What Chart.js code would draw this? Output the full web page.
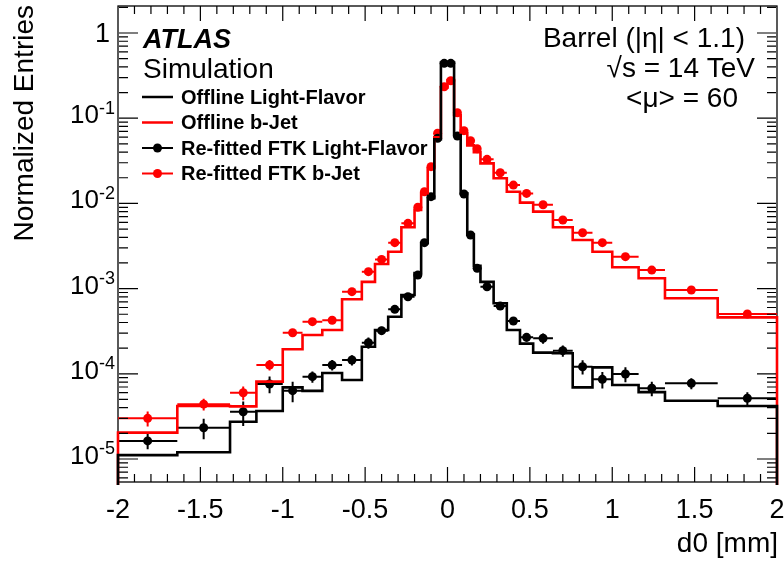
<!DOCTYPE html>
<html><head><meta charset="utf-8">
<script src="https://cdn.jsdelivr.net/npm/chart.js@4.4.1/dist/chart.umd.min.js"></script>
<style>html,body{margin:0;padding:0;background:#fff;}canvas{display:block;}</style>
</head><body>
<canvas id="c" width="784" height="564"></canvas>
<script>
// ---- data ----
const binEdges = [-2, -1.64, -1.32, -1.16, -1.0, -0.88, -0.76, -0.64, -0.52, -0.44, -0.36, -0.28, -0.2, -0.16, -0.12, -0.08, -0.04, 0,
  0.04, 0.08, 0.12, 0.16, 0.2, 0.28, 0.36, 0.44, 0.52, 0.64, 0.76, 0.88, 1.0, 1.16, 1.32, 1.64, 2.0];

const offlineLight = [1.11e-5, 1.2e-5, 2.74e-5, 3.66e-5, 6.93e-5, 6.3e-5, 1.02e-4, 8.45e-5, 2.08e-4, 3.27e-4, 4.68e-4, 8.41e-4,
  1.52e-3, 3.43e-3, 0.0115, 0.0565, 0.45, 0.45, 0.0635, 0.0131, 4.3e-3, 1.85e-3, 1.2e-3, 6.72e-4, 3.27e-4, 2.26e-4, 1.77e-4,
  1.74e-4, 6.93e-5, 1.19e-4, 7.39e-5, 6.1e-5, 4.83e-5, 4.19e-5];

const offlineB = [2.04e-5, 4.19e-5, 4.15e-5, 8.09e-5, 1.94e-4, 2.85e-4, 3.27e-4, 7.49e-4, 1.2e-3, 1.94e-3, 2.71e-3, 5.24e-3,
  8.4e-3, 1.32e-2, 2.58e-2, 5.97e-2, 0.23, 0.28, 0.109, 0.0665, 0.048, 0.040, 0.0295, 0.0197, 0.0137, 0.0102, 8.0e-3,
  5.24e-3, 3.72e-3, 2.71e-3, 1.78e-3, 1.32e-3, 7.69e-4, 4.6e-4];

const ftkLight = [1.63e-5, 2.33e-5, 3.59e-5, 7.6e-5, 6.34e-5, 9.25e-5, 1.27e-4, 1.45e-4, 2.32e-4, 3.21e-4, 5.71e-4, 8.03e-4,
  1.44e-3, 3.46e-3, 0.012, 0.058, 0.44, 0.44, 0.0618, 0.0129, 4.26e-3, 1.73e-3, 1.05e-3, 6.25e-4, 4.17e-4, 2.68e-4, 2.61e-4,
  1.87e-4, 1.21e-4, 8.61e-5, 9.95e-5, 6.76e-5, 7.74e-5, 5.16e-5];
const ftkLightErr = [3.3e-6, 6.3e-6, 1.15e-5, 1.7e-5, 1.7e-5, 1.4e-5, 1.8e-5, 2.0e-5, 3.5e-5, 3.5e-5, 4.6e-5, 5.6e-5,
  8e-5, 1.5e-4, 4e-4, 1.2e-3, 5e-3, 5e-3, 1.2e-3, 4e-4, 1.5e-4, 8e-5, 6e-5, 4e-5, 3.5e-5, 3e-5, 3.6e-5,
  2.8e-5, 2.3e-5, 1.9e-5, 2e-5, 1.3e-5, 1.15e-5, 9.3e-6];

const ftkB = [3.0e-5, 4.4e-5, 6.0e-5, 1.27e-4, 3.03e-4, 4.09e-4, 4.25e-4, 9.2e-4, 1.58e-3, 2.2e-3, 3.46e-3, 5.83e-3,
  9.0e-3, 1.37e-2, 2.7e-2, 6.65e-2, 0.234, 0.275, 0.116, 0.0714, 0.0544, 0.0438, 0.0329, 0.0229, 0.0164, 0.0131, 9.65e-3,
  6.38e-3, 4.53e-3, 3.46e-3, 2.37e-3, 1.65e-3, 9.63e-4, 5.03e-4];
const ftkBErr = [6e-6, 7e-6, 1.1e-5, 1.8e-5, 2.4e-5, 2.8e-5, 2.8e-5, 4.5e-5, 6.5e-5, 8e-5, 1.1e-4, 1.5e-4,
  2e-4, 2.8e-4, 4.5e-4, 9e-4, 3e-3, 3e-3, 1.5e-3, 1e-3, 8e-4, 7e-4, 5e-4, 4e-4, 3e-4, 2.6e-4, 2e-4,
  1.5e-4, 1.2e-4, 1e-4, 7e-5, 5.5e-5, 3.5e-5, 2.3e-5];

const seriesNames = ['Offline Light-Flavor', 'Offline b-Jet', 'Re-fitted FTK Light-Flavor', 'Re-fitted FTK b-Jet'];
const xTickValues = [-2, -1.5, -1, -0.5, 0, 0.5, 1, 1.5, 2];
const xTickLabels = ['-2', '-1.5', '-1', '-0.5', '0', '0.5', '1', '1.5', '2'];
const yTickExponents = [0, -1, -2, -3, -4, -5];
const xTitle = 'd0 [mm]';
const yTitle = 'Normalized Entries';
const infoLines = ['Barrel (|\u03b7| < 1.1)', '\u221as = 14 TeV', '<\u03bc> = 60'];

// ---- helpers ----
const FONT = '"Liberation Sans", Arial, Helvetica, sans-serif';
const RED = '#ff0000', BLACK = '#000000';
const FLOOR = 1e-9;

function histData(vals) {
  const n = binEdges.length - 1;
  const pts = [{x: binEdges[0], y: FLOOR}];
  for (let i = 0; i < n; i++) pts.push({x: binEdges[i], y: vals[i]});
  pts.push({x: binEdges[n], y: vals[n - 1]});
  pts.push({x: binEdges[n], y: FLOOR});
  return pts;
}
function pointData(vals) {
  return vals.map((v, i) => ({x: (binEdges[i] + binEdges[i + 1]) / 2, y: v}));
}

const errorBars = {
  id: 'errorBars',
  beforeDatasetDraw(chart, args) {
    const ds = chart.data.datasets[args.index];
    if (!ds.yErr) return;
    const xs = chart.scales.x, ys = chart.scales.y, ctx = chart.ctx, a = chart.chartArea;
    ctx.save();
    ctx.beginPath(); ctx.rect(a.left, a.top, a.right - a.left, a.bottom - a.top); ctx.clip();
    ctx.strokeStyle = ds.pointBackgroundColor; ctx.lineWidth = 2;
    ds.data.forEach((p, i) => {
      const py = ys.getPixelForValue(p.y), px = xs.getPixelForValue(p.x);
      ctx.beginPath();
      ctx.moveTo(xs.getPixelForValue(binEdges[i]), py);
      ctx.lineTo(xs.getPixelForValue(binEdges[i + 1]), py);
      ctx.moveTo(px, ys.getPixelForValue(p.y + ds.yErr[i]));
      ctx.lineTo(px, ys.getPixelForValue(Math.max(p.y - ds.yErr[i], FLOOR)));
      ctx.stroke();
    });
    ctx.restore();
  }
};

const frame = {
  id: 'frame',
  beforeDatasetsDraw(chart) {
    const ctx = chart.ctx, a = chart.chartArea;
    ctx.save();
    ctx.strokeStyle = BLACK; ctx.lineWidth = 1.3;
    ctx.strokeRect(a.left, a.top, a.right - a.left, a.bottom - a.top);
    ctx.restore();
  }
};

const decorations = {
  id: 'decorations',
  afterDraw(chart) {
    const ctx = chart.ctx, a = chart.chartArea, xs = chart.scales.x, ys = chart.scales.y;
    ctx.save();
    ctx.strokeStyle = BLACK; ctx.fillStyle = BLACK;
    // x ticks (inside, top and bottom)
    ctx.lineWidth = 1.2;
    ctx.beginPath();
    for (let k = -20; k <= 20; k++) {
      const v = k / 10, px = xs.getPixelForValue(v);
      if (k === -20 || k === 20) continue;
      const len = (k % 5 === 0) ? 15 : 8;
      ctx.moveTo(px, a.bottom); ctx.lineTo(px, a.bottom - len);
      ctx.moveTo(px, a.top); ctx.lineTo(px, a.top + len);
    }
    // y ticks (inside, left and right)
    for (let e = -6; e <= 0; e++) {
      for (let m = 1; m <= 9; m++) {
        const v = m * Math.pow(10, e);
        if (v < ys.min || v > ys.max) continue;
        const py = ys.getPixelForValue(v);
        const len = (m === 1) ? 20 : 10;
        ctx.moveTo(a.left + 1, py); ctx.lineTo(a.left + len, py);
        ctx.moveTo(a.right - 1, py); ctx.lineTo(a.right - len, py);
      }
    }
    ctx.stroke();
    // x tick labels
    ctx.font = '27px ' + FONT; ctx.textAlign = 'center'; ctx.textBaseline = 'alphabetic';
    xTickValues.forEach((v, i) => ctx.fillText(xTickLabels[i], xs.getPixelForValue(v), 518));
    // y tick labels
    yTickExponents.forEach(e => {
      const py = ys.getPixelForValue(Math.pow(10, e));
      if (e === 0) {
        ctx.font = '27px ' + FONT; ctx.textAlign = 'right';
        ctx.fillText('1', 110, py + 9.5);
      } else {
        const sup = String(e);
        ctx.font = '18px ' + FONT; const ws = ctx.measureText(sup).width;
        ctx.textAlign = 'left';
        ctx.fillText(sup, 115 - ws, py - 4.5);
        ctx.font = '26px ' + FONT; const wb = ctx.measureText('10').width;
        ctx.fillText('10', 115 - ws - wb, py + 5);
      }
    });
    // axis titles
    ctx.font = '28px ' + FONT; ctx.textAlign = 'right';
    ctx.fillText(xTitle, 778, 552);
    ctx.save();
    ctx.translate(33, 5); ctx.rotate(-Math.PI / 2);
    ctx.textAlign = 'right'; ctx.fillText(yTitle, 0, 0);
    ctx.restore();
    // ATLAS label
    ctx.textAlign = 'left';
    ctx.font = 'italic bold 27px ' + FONT; ctx.fillText('ATLAS', 143, 48);
    ctx.font = '28px ' + FONT; ctx.fillText('Simulation', 143, 78);
    // info text
    ctx.textAlign = 'right';
    ctx.fillText(infoLines[0], 745, 47);
    ctx.fillText(infoLines[1], 755, 77);
    ctx.fillText(infoLines[2], 738, 107);
    // legend
    const rows = [97, 122.5, 148, 173.5];
    const cols = [BLACK, RED, BLACK, RED];
    ctx.font = 'bold 20px ' + FONT; ctx.textAlign = 'left'; ctx.textBaseline = 'middle';
    rows.forEach((ry, i) => {
      ctx.strokeStyle = cols[i]; ctx.fillStyle = cols[i];
      ctx.lineWidth = i < 2 ? 2.5 : 2;
      ctx.beginPath(); ctx.moveTo(142, ry); ctx.lineTo(173, ry); ctx.stroke();
      if (i >= 2) { ctx.beginPath(); ctx.arc(157.5, ry, 4.5, 0, Math.PI * 2); ctx.fill(); }
      ctx.fillStyle = BLACK;
      ctx.fillText(seriesNames[i], 181, ry + 1);
    });
    ctx.restore();
  }
};

new Chart(document.getElementById('c'), {
  type: 'line',
  data: {
    datasets: [
      {label: seriesNames[0], data: histData(offlineLight), stepped: 'before', borderColor: BLACK, borderWidth: 2.6, pointRadius: 0, fill: false, clip: 3},
      {label: seriesNames[1], data: histData(offlineB), stepped: 'before', borderColor: RED, borderWidth: 2.6, pointRadius: 0, fill: false, clip: 3},
      {label: seriesNames[2], data: pointData(ftkLight), yErr: ftkLightErr, showLine: false, pointRadius: 4.5, pointBorderWidth: 0, pointBackgroundColor: BLACK, pointBorderColor: BLACK},
      {label: seriesNames[3], data: pointData(ftkB), yErr: ftkBErr, showLine: false, pointRadius: 4.5, pointBorderWidth: 0, pointBackgroundColor: RED, pointBorderColor: RED}
    ]
  },
  options: {
    responsive: false, animation: false, events: [],
    layout: {padding: {left: 0, right: 7, top: 6, bottom: 0}},
    plugins: {legend: {display: false}, tooltip: {enabled: false}},
    scales: {
      x: {type: 'linear', min: -2, max: 2, grid: {display: false, drawTicks: false}, border: {display: false}, ticks: {display: false},
          afterFit(s) { s.height = 82; }},
      y: {type: 'logarithmic', min: 5.37e-6, max: 2.074, grid: {display: false, drawTicks: false}, border: {display: false}, ticks: {display: false},
          afterFit(s) { s.width = 118; }}
    }
  },
  plugins: [errorBars, frame, decorations]
});
</script>
</body></html>
